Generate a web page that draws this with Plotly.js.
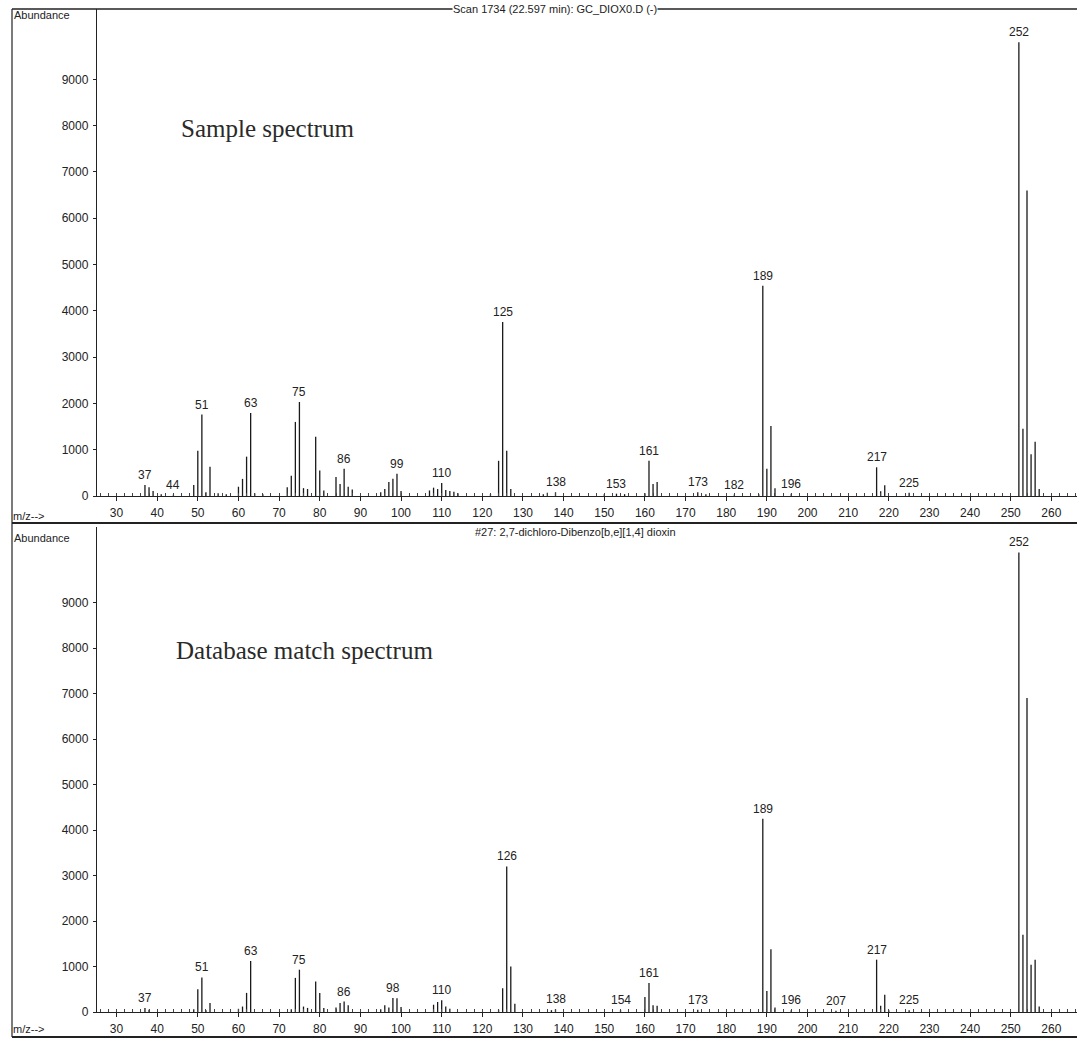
<!DOCTYPE html>
<html>
<head>
<meta charset="utf-8">
<script src="https://cdn.plot.ly/plotly-3.0.1.min.js"></script>
<style>html,body{margin:0;padding:0;background:#fff;}#chart{width:1077px;height:1039px;}</style>
</head>
<body>
<div id="chart"></div>
<script>
// ---- Sample spectrum (Scan 1734) ----
const sampleMz = [37,38,39,41,44,49,50,51,52,53,55,57,60,61,62,63,64,66,72,73,74,75,76,77,79,80,81,84,85,86,87,88,95,96,97,98,99,100,107,108,109,110,111,112,113,114,122,124,125,126,127,135,136,138,150,153,155,160,161,162,163,173,175,182,188,189,190,191,192,196,217,218,219,225,252,253,254,255,256,257];
const sampleAbund = [240,190,110,40,30,240,980,1760,80,630,60,40,200,370,850,1790,60,40,190,440,1600,2030,170,150,1280,550,120,410,260,590,200,140,80,150,300,370,480,110,120,180,150,280,130,110,90,60,40,760,3760,980,150,40,70,80,40,50,40,60,760,260,300,80,40,30,40,4540,590,1510,170,50,620,100,230,70,9800,1450,6600,900,1170,150];
const sampleLabels = [37,44,51,63,75,86,99,110,125,138,153,161,173,182,189,196,217,225,252];

// ---- Database match spectrum (#27) ----
const dbMz = [37,38,49,50,51,52,53,60,61,62,63,73,74,75,76,77,79,80,81,84,85,86,87,95,96,97,98,99,100,108,109,110,111,112,124,125,126,127,128,137,138,154,160,161,162,163,173,189,190,191,192,196,207,217,218,219,220,225,252,253,254,255,256,257];
const dbAbund = [90,50,60,500,760,40,200,70,120,420,1120,60,750,930,120,90,670,420,90,100,200,230,150,60,150,100,310,300,110,160,220,260,120,70,50,520,3200,1000,180,40,60,40,330,640,150,140,50,4250,460,1380,100,40,30,1150,140,380,40,40,10100,1700,6900,1040,1150,120];
const dbLabels = [37,51,63,75,86,98,110,126,138,154,161,173,189,196,207,217,225,252];

// ---- Axis ticks ----
const yTicks = [0,1000,2000,3000,4000,5000,6000,7000,8000,9000];
const xTicks = [30,40,50,60,70,80,90,100,110,120,130,140,150,160,170,180,190,200,210,220,230,240,250,260];

const sampleTitle = "Scan 1734 (22.597 min): GC_DIOX0.D (-)";
const dbTitle = "#27: 2,7-dichloro-Dibenzo[b,e][1,4] dioxin";

// ---- geometry helpers (pixels -> paper) ----
const W = 1077, H = 1039, ML = 97, MR = 0, MT = 9, MB = 27;
const PW = W - ML - MR, PH = H - MT - MB;
const fx = px => (px - ML) / PW;
const fy = py => (H - MB - py) / PH;

function sticks(mz, ab, xa, ya) {
  const x = [], y = [];
  mz.forEach((m, i) => { x.push(m, m, null); y.push(0, ab[i], null); });
  return {type:'scatter', mode:'lines', x, y, xaxis:xa, yaxis:ya,
          line:{color:'#1a1a1a', width:1.3}, hoverinfo:'skip', showlegend:false};
}

const font = {family:'"Liberation Sans", Arial, sans-serif', size:12, color:'#222'};
const annots = [];
function peakLabels(labels, mz, ab, xr, yr) {
  labels.forEach(m => {
    const i = mz.indexOf(m);
    annots.push({x:m, y:ab[i], xref:xr, yref:yr, text:String(m), showarrow:false,
                 yanchor:'bottom', xanchor:'center', yshift:1, font:font});
  });
}
peakLabels(sampleLabels, sampleMz, sampleAbund, 'x', 'y');
peakLabels(dbLabels, dbMz, dbAbund, 'x2', 'y2');

const small = {family:'"Liberation Sans", Arial, sans-serif', size:11, color:'#222'};
function ptext(px, py, text, f, xanchor, bg) {
  annots.push({x:fx(px), y:fy(py), xref:'paper', yref:'paper', text, showarrow:false,
               xanchor:xanchor||'center', yanchor:'middle', font:f, bgcolor:bg||'rgba(0,0,0,0)', borderpad:0});
}
ptext(13, 15, 'Abundance', small, 'left');
ptext(13, 538, 'Abundance', small, 'left');
ptext(555, 9, sampleTitle, small, 'center', '#fff');
ptext(575, 532, dbTitle, small, 'center', '#fff');
ptext(12, 516, 'm/z-->', small, 'left');
ptext(12, 1029, 'm/z-->', small, 'left');
const serif = {family:'"Liberation Serif", "Times New Roman", serif', size:25, color:'#2a2a2a'};
ptext(180, 128, 'Sample spectrum', serif, 'left');
ptext(175, 650, 'Database match spectrum', serif, 'left');

const lineStyle = {color:'#222', width:1.2};
const shapes = [
  {type:'line', xref:'paper', yref:'paper', x0:fx(12), x1:1, y0:fy(9), y1:fy(9), line:{color:'#222', width:1.5}},
  {type:'line', xref:'paper', yref:'paper', x0:fx(12), x1:fx(12), y0:fy(9), y1:fy(1037), line:lineStyle},
  {type:'line', xref:'paper', yref:'paper', x0:fx(12), x1:1, y0:fy(523), y1:fy(523), line:{color:'#222', width:2}},
  {type:'line', xref:'paper', yref:'paper', x0:fx(12), x1:1, y0:fy(1037), y1:fy(1037), line:{color:'#222', width:2}}
];

const xRange = [25.2, 266.3];
function xax(anchor) {
  return {range:xRange, anchor, tickvals:xTicks, ticks:'outside', ticklen:4, tickwidth:1, tickcolor:'#222',
          showline:true, linecolor:'#222', linewidth:1.2, showgrid:false, zeroline:false,
          tickfont:font, ticklabelstandoff:1,
          minor:{dtick:2, tick0:0, ticks:'inside', ticklen:3, tickcolor:'#444', showgrid:false}};
}
function yax(anchor, domain, top) {
  return {range:[0, top], domain, anchor, tickvals:yTicks, ticks:'outside', ticklen:3, tickcolor:'#222',
          showline:true, linecolor:'#222', linewidth:1.2, showgrid:false, zeroline:false,
          tickfont:font, ticklabelstandoff:2};
}

const layout = {
  width:W, height:H, margin:{l:ML, r:MR, t:MT, b:MB},
  paper_bgcolor:'#fff', plot_bgcolor:'#fff', showlegend:false,
  xaxis: xax('y'),
  yaxis: yax('x', [fy(496), 1], (496 - 9) / 46.3 * 1000),
  xaxis2: xax('y2'),
  yaxis2: yax('x2', [0, fy(527)], (1012 - 527) / 45.5 * 1000),
  annotations: annots, shapes
};

Plotly.newPlot('chart', [
  sticks(sampleMz, sampleAbund, 'x', 'y'),
  sticks(dbMz, dbAbund, 'x2', 'y2')
], layout, {staticPlot:true, displayModeBar:false});
</script>
</body>
</html>
